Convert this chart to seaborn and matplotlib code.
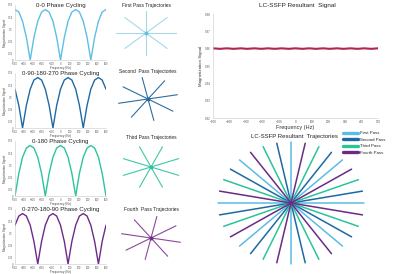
import numpy as np
import pandas as pd
import matplotlib
matplotlib.use("Agg")
import matplotlib.pyplot as plt
from matplotlib.lines import Line2D
import seaborn as sns

# ---- data ----
freq_hz = [-500, -458, -417, -375, -333, -292, -250, -208, -167, -125, -83, -42, 0,
           42, 83, 125, 167, 208, 250, 292, 333, 375, 417, 458, 500]

signal_0_0 = [0.165, 0.157, 0.127, 0.074, 0.0, 0.074, 0.127, 0.157, 0.165, 0.157, 0.127, 0.074, 0.0,
              0.074, 0.127, 0.157, 0.165, 0.157, 0.127, 0.074, 0.0, 0.074, 0.127, 0.157, 0.165]
signal_0_90_180_270 = [0.127, 0.074, 0.0, 0.074, 0.127, 0.157, 0.165, 0.157, 0.127, 0.074, 0.0, 0.074, 0.127,
                       0.157, 0.165, 0.157, 0.127, 0.074, 0.0, 0.074, 0.127, 0.157, 0.165, 0.157, 0.127]
signal_0_180 = [0.0, 0.074, 0.127, 0.157, 0.165, 0.157, 0.127, 0.074, 0.0, 0.074, 0.127, 0.157, 0.165,
                0.157, 0.127, 0.074, 0.0, 0.074, 0.127, 0.157, 0.165, 0.157, 0.127, 0.074, 0.0]
signal_0_270_180_90 = [0.127, 0.157, 0.165, 0.157, 0.127, 0.074, 0.0, 0.074, 0.127, 0.157, 0.165, 0.157, 0.127,
                       0.074, 0.0, 0.074, 0.127, 0.157, 0.165, 0.157, 0.127, 0.074, 0.0, 0.074, 0.127]
resultant = [0.3602, 0.3599, 0.3602, 0.3599, 0.3602, 0.3599, 0.3602, 0.3599, 0.3602, 0.3599, 0.3602, 0.3599, 0.3602,
             0.3599, 0.3602, 0.3599, 0.3602, 0.3599, 0.3602, 0.3599, 0.3602, 0.3599, 0.3602, 0.3599, 0.3602]

cycle_titles = ["0-0 Phase Cycling", "0-90-180-270 Phase Cycling",
                "0-180 Phase Cycling", "0-270-180-90 Phase Cycling"]
pass_titles = ["First Pass Trajectories", "Second  Pass Trajectories",
               "Third Pass Trajectories", "Fourth  Pass Trajectories"]
pass_names = ["First Pass", "Second Pass", "Third Pass", "Fourth Pass"]

# spoke angles (deg) of each pass
pass_angles = [[0, 45, 90, 135],
               [11.25, 56.25, 101.25, 146.25],
               [22.5, 67.5, 112.5, 157.5],
               [33.75, 78.75, 123.75, 168.75]]

curve_colors = ["#5ebfe3", "#1f6aa5", "#2cc4a0", "#6e2a88"]
small_star_colors = ["#a5d9e8", "#2d6f9f", "#3fc9a6", "#8b4a9b"]
big_star_colors = ["#5bbce4", "#1f69a3", "#2bc49a", "#6b2a86"]

signals = [signal_0_0, signal_0_90_180_270, signal_0_180, signal_0_270_180_90]

# ---- figure ----
sns.set_style("white")
plt.rcParams["font.family"] = ["Liberation Sans", "DejaVu Sans"]

W, H = 400, 274
fig = plt.figure(figsize=(4, 2.74), dpi=100)


def px_axes(x0, y0, x1, y1):
    return fig.add_axes([x0 / W, 1 - y1 / H, (x1 - x0) / W, (y1 - y0) / H])


def style_axes(ax, size):
    sns.despine(ax=ax)
    for s in ["left", "bottom"]:
        ax.spines[s].set_color("#c8c8c8")
        ax.spines[s].set_linewidth(0.4)
    ax.tick_params(length=1, width=0.3, labelsize=size, pad=0.5, colors="#555555")


xticks = [-500, -400, -300, -200, -100, 0, 100, 200, 300, 400, 500]

# left column: phase-cycling profiles
for i in range(4):
    top = 5 + 68 * i
    ax = px_axes(15, top, 106, top + 55)
    df = pd.DataFrame({"f": freq_hz, "s": signals[i]})
    sns.lineplot(data=df, x="f", y="s", color=curve_colors[i], linewidth=1.0, ax=ax)
    ax.set_xlim(-500, 500)
    ax.set_ylim(0, 0.18)
    ax.set_xticks(xticks)
    ax.set_yticks([0, 0.02, 0.06, 0.1, 0.14, 0.18])
    ax.set_yticklabels(["0", "0.02", "0.06", "0.1", "0.14", "0.18"])
    style_axes(ax, 1.8)
    ax.set_xlabel("Frequency (Hz)", fontsize=2.2, labelpad=0.3, color="#444444")
    ax.set_ylabel("Magnetization Signal", fontsize=2.2, labelpad=0.5, color="#444444")
    ax.text(0.5, 1.0, cycle_titles[i], transform=ax.transAxes, ha="center", va="center",
            fontsize=4.4, color="#222222")

# middle column: single-pass trajectories
centers = [(146, 33), (148, 99), (151, 167), (151, 238)]
title_y = [5, 71, 138, 209]
for i in range(4):
    cx, cy = centers[i]
    ax = px_axes(cx - 31.5, cy - 23, cx + 31.5, cy + 23)
    for a in pass_angles[i]:
        r = np.deg2rad(a)
        ax.plot([-np.cos(r), np.cos(r)], [-np.sin(r), np.sin(r)],
                color=small_star_colors[i], linewidth=0.8)
    ax.plot([0], [0], "o", color=curve_colors[i], markersize=1.8)
    ax.set_xlim(-1.05, 1.05)
    ax.set_ylim(-1.05, 1.05)
    ax.axis("off")
    fig.text(cx / W, 1 - title_y[i] / H, pass_titles[i], ha="center", va="center",
             fontsize=3.5, color="#222222")

# top right: resultant signal
ax = px_axes(213, 14, 378, 118)
df = pd.DataFrame({"f": freq_hz, "s": resultant})
sns.lineplot(data=df, x="f", y="s", color="#b0264c", linewidth=1.5, ax=ax)
ax.set_xlim(-500, 500)
ax.set_ylim(0.32, 0.38)
ax.set_xticks(xticks)
ax.set_yticks([0.32, 0.33, 0.34, 0.35, 0.36, 0.37, 0.38])
style_axes(ax, 2.2)
ax.set_xlabel("Frequency (Hz)", fontsize=4, labelpad=0.5, color="#333333")
ax.set_ylabel("Magnetization Signal", fontsize=3.2, labelpad=1.5, color="#333333")
fig.text(297 / W, 1 - 6 / H, "LC-SSFP Resultant  Signal", ha="center", va="center",
         fontsize=4.6, color="#222222")

# bottom right: combined trajectories
ax = px_axes(291 - 76.5, 203 - 64, 291 + 76.5, 203 + 64)
for i in range(4):
    for a in pass_angles[i]:
        r = np.deg2rad(a)
        ax.plot([-np.cos(r), np.cos(r)], [-np.sin(r), np.sin(r)],
                color=big_star_colors[i], linewidth=1.1)
ax.set_xlim(-1.05, 1.05)
ax.set_ylim(-1.05, 1.05)
ax.axis("off")
fig.text(294 / W, 1 - 136 / H, "LC-SSFP Resultant  Trajectories", ha="center", va="center",
         fontsize=4.3, color="#222222")

handles = [Line2D([], [], color=c, linewidth=2.4) for c in big_star_colors]
fig.legend(handles, pass_names, loc="upper left", bbox_to_anchor=(343 / W, 1 - 131 / H),
           frameon=False, fontsize=3.2, handlelength=3.4, handletextpad=0.4,
           labelspacing=0.55, borderpad=0, borderaxespad=0)

fig.savefig("out.png", dpi=100)
